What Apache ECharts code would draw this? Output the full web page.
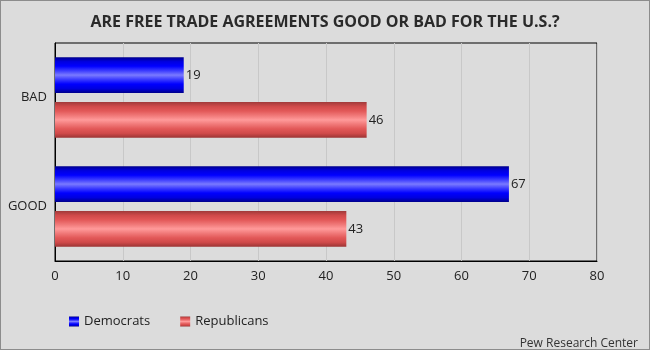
<!DOCTYPE html>
<html><head><meta charset="utf-8">
<script src="https://cdn.jsdelivr.net/npm/echarts@6/dist/echarts.min.js"></script>
<style>html,body{margin:0;padding:0;background:#dcdcdc}#c{width:650px;height:350px;box-sizing:border-box;border:1px solid #8c8c8c}</style>
</head><body><div id="c"></div>
<script>
const categories = ['BAD', 'GOOD'];
const democrats = [19, 67];
const republicans = [46, 43];
const xTicks = [0, 10, 20, 30, 40, 50, 60, 70, 80];

function grad(stops){
  return new echarts.graphic.LinearGradient(0,0,0,1, stops.map((c,i)=>({offset:i/(stops.length-1), color:c})));
}
const blue = grad(['#00008a','#0000e0','#0000ff','#3a3aff','#7a7aff','#3a3aff','#0000ff','#0000e0','#00008a']);
const red = grad(['#a03a3a','#d04a4a','#e25858','#f07878','#ff9a9a','#f07878','#e25858','#d04a4a','#9a3434']);

const chart = echarts.init(document.getElementById('c'));
const font = '"Open Sans", sans-serif';
chart.setOption({
  backgroundColor: '#dcdcdc',
  animation: false,
  textStyle: {fontFamily: font},
  title: [{
    text: 'ARE FREE TRADE AGREEMENTS GOOD OR BAD FOR THE U.S.?',
    left: 'center', top: 8,
    textStyle: {fontFamily: font, fontSize: 16, fontWeight: 'bold', color: '#2a2a2a'}
  },{
    text: 'Pew Research Center',
    right: 6, top: 332,
    textStyle: {fontFamily: font, fontSize: 12, fontWeight: 'normal', color: '#333'}
  }],
  legend: {
    left: 63, top: 309, itemWidth: 10, itemHeight: 10, itemGap: 30,
    icon: 'rect',
    textStyle: {fontFamily: font, fontSize: 13, color: '#222'},
    data: ['Democrats', 'Republicans']
  },
  grid: {left: 54, right: 52, top: 42, bottom: 88, show: true, borderColor: '#000', borderWidth: 1, backgroundColor: 'transparent'},
  xAxis: {
    type: 'value', min: xTicks[0], max: xTicks[xTicks.length-1], interval: 10,
    axisLine: {show: true, lineStyle: {color: '#000'}},
    axisTick: {show: false},
    axisLabel: {color: '#222', fontSize: 13, margin: 9, fontFamily: font},
    splitLine: {show: true, lineStyle: {color: '#c8c8c8', width: 1}}
  },
  yAxis: {
    type: 'category', data: categories, inverse: true,
    axisLine: {show: true, lineStyle: {color: '#000'}},
    axisTick: {show: false},
    axisLabel: {color: '#222', fontSize: 13, margin: 8, fontFamily: font}
  },
  series: [{
    name: 'Democrats', type: 'bar', data: democrats,
    barGap: '25%', barCategoryGap: '26%',
    itemStyle: {color: blue},
    label: {show: true, position: 'right', distance: 2, color: '#222', fontSize: 13, fontFamily: font}
  },{
    name: 'Republicans', type: 'bar', data: republicans,
    itemStyle: {color: red},
    label: {show: true, position: 'right', distance: 2, color: '#222', fontSize: 13, fontFamily: font}
  }]
});
</script></body></html>
